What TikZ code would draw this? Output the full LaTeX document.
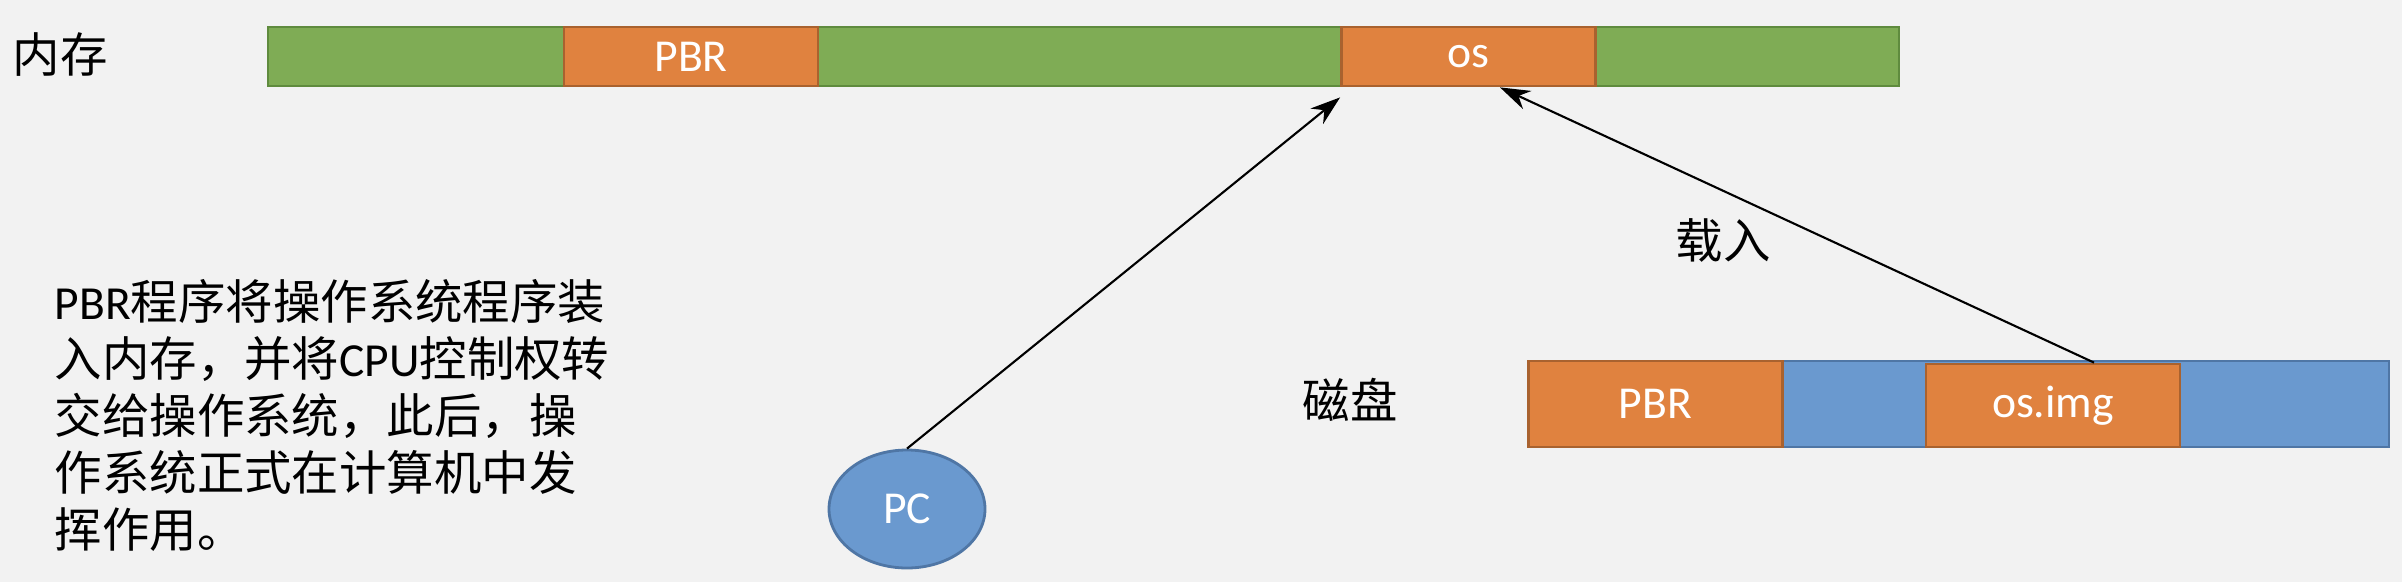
\documentclass[tikz,border=0pt]{standalone}
\usepackage{fontspec}
\setmainfont{Carlito}
\newfontfamily\cjk{Noto Sans CJK SC}
\usepackage{tikz}
\usetikzlibrary{arrows.meta,positioning,shapes.geometric}
\definecolor{bggray}{HTML}{F2F2F2}
\definecolor{grnfill}{HTML}{7FAC55}
\definecolor{grnline}{HTML}{5F8B3E}
\definecolor{orgfill}{HTML}{E0823F}
\definecolor{orgline}{HTML}{A9622F}
\definecolor{blufill}{HTML}{6A99CF}
\definecolor{bluline}{HTML}{4F76A5}
\tikzset{
  membar/.style={draw=grnline,fill=grnfill,line width=0.8pt,inner sep=0pt,
    minimum width=16.31cm,minimum height=0.59cm},
  diskbar/.style={draw=bluline,fill=blufill,line width=0.8pt,inner sep=0pt,
    minimum width=8.6cm,minimum height=0.86cm},
  blk/.style={draw=orgline,fill=orgfill,line width=0.8pt,inner sep=0pt,
    text=white,font=\fontsize{13pt}{15pt}\selectfont,minimum width=2.54cm},
  lbl/.style={font=\cjk\fontsize{13.5pt}{16pt}\selectfont,inner sep=0pt},
  arr/.style={-{Stealth[length=3mm,width=2mm]},line width=0.6pt}
}

\begin{document}
\begin{tikzpicture}
		% background
		\fill[bggray] (0,0) rectangle (24.02,5.82);
		\useasboundingbox (0,0) rectangle (24.02,5.82);
		% memory
		\node[lbl] (memLbl) at (0.6,5.27) {内存};
		\node[membar] (mem) at (10.835,5.255) {};
		\node[blk,minimum height=0.59cm] (memPBR) at (6.91,5.255) {PBR};
		\node[blk,minimum height=0.59cm] (memOS) at (14.685,5.255) {os};
		% disk
		\node[lbl] (diskLbl) at (13.5,1.82) {磁盘};
		\node[diskbar] (disk) at (19.59,1.78) {};
		\node[blk,minimum height=0.86cm] (diskPBR) at (16.555,1.78) {PBR};
		\node[blk,minimum height=0.83cm] (diskOS) at (20.53,1.765) {os.img};
		% program counter
		\node[ellipse,draw=bluline,fill=blufill,line width=0.8pt,inner sep=0pt,
			minimum width=1.56cm,minimum height=1.18cm,text=white,
			font=\fontsize{13pt}{15pt}\selectfont] (pc) at (9.07,0.73) {PC};
		% arrows
		\draw[arr] (pc.north) -- ([yshift=-1mm]memOS.south west);
		\draw[arr] ([xshift=4.1mm]diskOS.north) -- ([xshift=3.15mm]memOS.south);
		\node[lbl] (loadLbl) at (17.23,3.42) {载入};
		% note
		\node[anchor=north west,align=left,inner sep=0pt,
			font=\fontsize{13.5pt}{16.2pt}\selectfont] (note) at (0.54,3.03)
			{PBR{\cjk 程序将操作系统程序装}\\
			{\cjk 入内存，并将}CPU{\cjk 控制权转}\\
			{\cjk 交给操作系统，此后，操}\\
			{\cjk 作系统正式在计算机中发}\\
			{\cjk 挥作用。}};
	\end{tikzpicture}
\end{document}
